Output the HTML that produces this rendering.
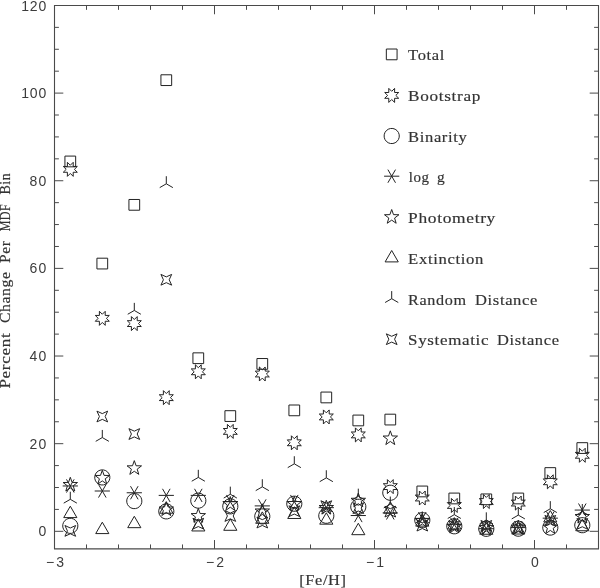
<!DOCTYPE html>
<html><head><meta charset="utf-8"><title>Percent Change Per MDF Bin</title>
<style>html,body{margin:0;padding:0;background:#fff}svg{display:block}text{font-family:"Liberation Serif",serif;fill:#333;stroke:#333;stroke-width:0.18px}.n{font-family:"Liberation Sans",sans-serif;fill:#3c3c3c;stroke:none}</style></head>
<body>
<svg width="600" height="588" viewBox="0 0 600 588">
<rect width="600" height="588" fill="#fff"/>
<path d="M54.50 5.45H598.50V548.85H54.50Z" fill="none" stroke="#4a4a4a" stroke-width="1.1"/>
<path d="M86.50 548.85v-4.40M86.50 5.45v4.40M118.50 548.85v-4.40M118.50 5.45v4.40M150.50 548.85v-4.40M150.50 5.45v4.40M182.50 548.85v-4.40M182.50 5.45v4.40M214.50 548.85v-8.80M214.50 5.45v8.80M246.50 548.85v-4.40M246.50 5.45v4.40M278.50 548.85v-4.40M278.50 5.45v4.40M310.50 548.85v-4.40M310.50 5.45v4.40M342.50 548.85v-4.40M342.50 5.45v4.40M374.50 548.85v-8.80M374.50 5.45v8.80M406.50 548.85v-4.40M406.50 5.45v4.40M438.50 548.85v-4.40M438.50 5.45v4.40M470.50 548.85v-4.40M470.50 5.45v4.40M502.50 548.85v-4.40M502.50 5.45v4.40M534.50 548.85v-8.80M534.50 5.45v8.80M566.50 548.85v-4.40M566.50 5.45v4.40M54.50 531.32h8.80M598.50 531.32h-8.80M54.50 509.41h4.40M598.50 509.41h-4.40M54.50 487.50h4.40M598.50 487.50h-4.40M54.50 465.59h4.40M598.50 465.59h-4.40M54.50 443.68h8.80M598.50 443.68h-8.80M54.50 421.76h4.40M598.50 421.76h-4.40M54.50 399.85h4.40M598.50 399.85h-4.40M54.50 377.94h4.40M598.50 377.94h-4.40M54.50 356.03h8.80M598.50 356.03h-8.80M54.50 334.12h4.40M598.50 334.12h-4.40M54.50 312.21h4.40M598.50 312.21h-4.40M54.50 290.30h4.40M598.50 290.30h-4.40M54.50 268.39h8.80M598.50 268.39h-8.80M54.50 246.47h4.40M598.50 246.47h-4.40M54.50 224.56h4.40M598.50 224.56h-4.40M54.50 202.65h4.40M598.50 202.65h-4.40M54.50 180.74h8.80M598.50 180.74h-8.80M54.50 158.83h4.40M598.50 158.83h-4.40M54.50 136.92h4.40M598.50 136.92h-4.40M54.50 115.01h4.40M598.50 115.01h-4.40M54.50 93.10h8.80M598.50 93.10h-8.80M54.50 71.18h4.40M598.50 71.18h-4.40M54.50 49.27h4.40M598.50 49.27h-4.40M54.50 27.36h4.40M598.50 27.36h-4.40" fill="none" stroke="#4a4a4a" stroke-width="1"/>
<text class="n" x="46.2" y="536.42" font-size="14" text-anchor="end" textLength="8.3" lengthAdjust="spacing">0</text>
<text class="n" x="46.2" y="448.78" font-size="14" text-anchor="end" textLength="16.6" lengthAdjust="spacing">20</text>
<text class="n" x="46.2" y="361.13" font-size="14" text-anchor="end" textLength="16.6" lengthAdjust="spacing">40</text>
<text class="n" x="46.2" y="273.49" font-size="14" text-anchor="end" textLength="16.6" lengthAdjust="spacing">60</text>
<text class="n" x="46.2" y="185.84" font-size="14" text-anchor="end" textLength="16.6" lengthAdjust="spacing">80</text>
<text class="n" x="46.2" y="98.20" font-size="14" text-anchor="end" textLength="24.9" lengthAdjust="spacing">100</text>
<text class="n" x="46.2" y="10.55" font-size="14" text-anchor="end" textLength="24.9" lengthAdjust="spacing">120</text>
<text class="n" x="55.00" y="567.3" font-size="14" text-anchor="middle" textLength="18.0" lengthAdjust="spacing">−3</text>
<text class="n" x="215.00" y="567.3" font-size="14" text-anchor="middle" textLength="18.0" lengthAdjust="spacing">−2</text>
<text class="n" x="375.00" y="567.3" font-size="14" text-anchor="middle" textLength="18.0" lengthAdjust="spacing">−1</text>
<text class="n" x="535.00" y="567.3" font-size="14" text-anchor="middle" textLength="8.0" lengthAdjust="spacing">0</text>
<text y="584.7" font-size="15.5" style="letter-spacing:0.6px"><tspan x="299.30" textLength="47.30" lengthAdjust="spacingAndGlyphs">[Fe/H]</tspan></text>
<text transform="translate(10.2 0) rotate(-90)" y="0" font-size="15.5" style="letter-spacing:0.6px"><tspan x="-388.60" textLength="56.00" lengthAdjust="spacingAndGlyphs">Percent</tspan> <tspan x="-323.10" textLength="51.60" lengthAdjust="spacingAndGlyphs">Change</tspan> <tspan x="-262.90" textLength="22.40" lengthAdjust="spacingAndGlyphs">Per</tspan> <tspan x="-231.30" textLength="27.50" lengthAdjust="spacingAndGlyphs">MDF</tspan> <tspan x="-194.60" textLength="21.80" lengthAdjust="spacingAndGlyphs">Bin</tspan></text>
<text y="60.20" font-size="15.5" style="letter-spacing:0.6px"><tspan x="408.10" textLength="36.90" lengthAdjust="spacingAndGlyphs">Total</tspan></text>
<text y="101.20" font-size="15.5" style="letter-spacing:0.6px"><tspan x="408.10" textLength="72.90" lengthAdjust="spacingAndGlyphs">Bootstrap</tspan></text>
<text y="141.80" font-size="15.5" style="letter-spacing:0.6px"><tspan x="408.10" textLength="59.30" lengthAdjust="spacingAndGlyphs">Binarity</tspan></text>
<text y="182.00" font-size="15.5" style="letter-spacing:0.6px"><tspan x="408.80" textLength="20.80" lengthAdjust="spacingAndGlyphs">log</tspan> <tspan x="436.90" textLength="8.30" lengthAdjust="spacingAndGlyphs">g</tspan></text>
<text y="222.90" font-size="15.5" style="letter-spacing:0.6px"><tspan x="408.10" textLength="87.90" lengthAdjust="spacingAndGlyphs">Photometry</tspan></text>
<text y="263.90" font-size="15.5" style="letter-spacing:0.6px"><tspan x="408.10" textLength="75.90" lengthAdjust="spacingAndGlyphs">Extinction</tspan></text>
<text y="304.50" font-size="15.5" style="letter-spacing:0.6px"><tspan x="408.10" textLength="58.50" lengthAdjust="spacingAndGlyphs">Random</tspan> <tspan x="475.00" textLength="63.00" lengthAdjust="spacingAndGlyphs">Distance</tspan></text>
<text y="345.00" font-size="15.5" style="letter-spacing:0.6px"><tspan x="408.10" textLength="81.00" lengthAdjust="spacingAndGlyphs">Systematic</tspan> <tspan x="496.90" textLength="62.70" lengthAdjust="spacingAndGlyphs">Distance</tspan></text>
<path d="M397.07 49.03L386.33 49.03L386.33 59.77L397.07 59.77ZM75.67 156.08L64.93 156.08L64.93 166.83L75.67 166.83ZM107.67 258.19L96.93 258.19L96.93 268.94L107.67 268.94ZM139.67 199.47L128.93 199.47L128.93 210.22L139.67 210.22ZM171.67 74.79L160.93 74.79L160.93 85.54L171.67 85.54ZM203.67 352.85L192.93 352.85L192.93 363.60L203.67 363.60ZM235.67 410.69L224.93 410.69L224.93 421.44L235.67 421.44ZM267.67 358.54L256.93 358.54L256.93 369.29L267.67 369.29ZM299.67 405.00L288.93 405.00L288.93 415.74L299.67 415.74ZM331.67 392.07L320.93 392.07L320.93 402.82L331.67 402.82ZM363.67 415.08L352.93 415.08L352.93 425.82L363.67 425.82ZM395.67 414.20L384.93 414.20L384.93 424.95L395.67 424.95ZM427.67 486.07L416.93 486.07L416.93 496.82L427.67 496.82ZM459.67 493.08L448.93 493.08L448.93 503.83L459.67 503.83ZM491.67 493.96L480.93 493.96L480.93 504.70L491.67 504.70ZM523.67 493.08L512.93 493.08L512.93 503.83L523.67 503.83ZM555.67 467.66L544.93 467.66L544.93 478.41L555.67 478.41ZM587.67 442.68L576.93 442.68L576.93 453.43L587.67 453.43Z" fill="none" stroke="#222" stroke-width="1" stroke-linejoin="round" stroke-linecap="butt"/>
<path d="M398.72 92.49L394.60 92.50L394.61 88.38L391.70 91.30L388.79 88.38L388.80 92.50L384.68 92.49L387.60 95.40L384.68 98.31L388.80 98.30L388.79 102.42L391.70 99.50L394.61 102.42L394.60 98.30L398.72 98.31L395.80 95.40ZM77.32 166.44L73.20 166.44L73.21 162.32L70.30 165.24L67.39 162.32L67.40 166.44L63.28 166.44L66.20 169.35L63.28 172.25L67.40 172.25L67.39 176.37L70.30 173.45L73.21 176.37L73.20 172.25L77.32 172.25L74.40 169.35ZM109.32 315.43L105.20 315.44L105.21 311.32L102.30 314.24L99.39 311.32L99.40 315.44L95.28 315.43L98.20 318.34L95.28 321.25L99.40 321.25L99.39 325.36L102.30 322.45L105.21 325.36L105.20 321.25L109.32 321.25L106.40 318.34ZM141.32 320.69L137.20 320.70L137.21 316.58L134.30 319.50L131.39 316.58L131.40 320.70L127.28 320.69L130.20 323.60L127.28 326.51L131.40 326.50L131.39 330.62L134.30 327.71L137.21 330.62L137.20 326.50L141.32 326.51L138.40 323.60ZM173.32 394.75L169.20 394.76L169.21 390.64L166.30 393.56L163.39 390.64L163.40 394.76L159.28 394.75L162.20 397.66L159.28 400.57L163.40 400.56L163.39 404.68L166.30 401.77L169.21 404.68L169.20 400.56L173.32 400.57L170.40 397.66ZM205.32 368.90L201.20 368.90L201.21 364.79L198.30 367.70L195.39 364.79L195.40 368.90L191.28 368.90L194.20 371.81L191.28 374.72L195.40 374.71L195.39 378.83L198.30 375.91L201.21 378.83L201.20 374.71L205.32 374.72L202.40 371.81ZM237.32 428.50L233.20 428.50L233.21 424.38L230.30 427.30L227.39 424.38L227.40 428.50L223.28 428.50L226.20 431.41L223.28 434.31L227.40 434.31L227.39 438.43L230.30 435.51L233.21 438.43L233.20 434.31L237.32 434.31L234.40 431.41ZM269.32 371.09L265.20 371.10L265.21 366.98L262.30 369.89L259.39 366.98L259.40 371.10L255.28 371.09L258.20 374.00L255.28 376.91L259.40 376.90L259.39 381.02L262.30 378.10L265.21 381.02L265.20 376.90L269.32 376.91L266.40 374.00ZM301.32 439.89L297.20 439.90L297.21 435.78L294.30 438.70L291.39 435.78L291.40 439.90L287.28 439.89L290.20 442.80L287.28 445.71L291.40 445.70L291.39 449.82L294.30 446.90L297.21 449.82L297.20 445.70L301.32 445.71L298.40 442.80ZM333.32 414.04L329.20 414.04L329.21 409.92L326.30 412.84L323.39 409.92L323.40 414.04L319.28 414.04L322.20 416.94L319.28 419.85L323.40 419.85L323.39 423.97L326.30 421.05L329.21 423.97L329.20 419.85L333.32 419.85L330.40 416.94ZM365.32 432.00L361.20 432.01L361.21 427.89L358.30 430.81L355.39 427.89L355.40 432.01L351.28 432.00L354.20 434.91L351.28 437.82L355.40 437.81L355.39 441.93L358.30 439.02L361.21 441.93L361.20 437.81L365.32 437.82L362.40 434.91ZM397.32 483.71L393.20 483.72L393.21 479.60L390.30 482.52L387.39 479.60L387.40 483.72L383.28 483.71L386.20 486.62L383.28 489.53L387.40 489.52L387.39 493.64L390.30 490.73L393.21 493.64L393.20 489.52L397.32 489.53L394.40 486.62ZM429.32 495.11L425.20 495.11L425.21 490.99L422.30 493.91L419.39 490.99L419.40 495.11L415.28 495.11L418.20 498.02L415.28 500.92L419.40 500.92L419.39 505.04L422.30 502.12L425.21 505.04L425.20 500.92L429.32 500.92L426.40 498.02ZM461.32 502.56L457.20 502.56L457.21 498.44L454.30 501.36L451.39 498.44L451.40 502.56L447.28 502.56L450.20 505.47L447.28 508.37L451.40 508.37L451.39 512.49L454.30 509.57L457.21 512.49L457.20 508.37L461.32 508.37L458.40 505.47ZM493.32 498.61L489.20 498.62L489.21 494.50L486.30 497.42L483.39 494.50L483.40 498.62L479.28 498.61L482.20 501.52L479.28 504.43L483.40 504.42L483.39 508.54L486.30 505.63L489.21 508.54L489.20 504.42L493.32 504.43L490.40 501.52ZM525.32 500.15L521.20 500.15L521.21 496.03L518.30 498.95L515.39 496.03L515.40 500.15L511.28 500.15L514.20 503.06L511.28 505.96L515.40 505.96L515.39 510.08L518.30 507.16L521.21 510.08L521.20 505.96L525.32 505.96L522.40 503.06ZM557.32 478.89L553.20 478.90L553.21 474.78L550.30 477.70L547.39 474.78L547.40 478.90L543.28 478.89L546.20 481.80L543.28 484.71L547.40 484.70L547.39 488.82L550.30 485.91L553.21 488.82L553.20 484.70L557.32 484.71L554.40 481.80ZM589.32 452.38L585.20 452.39L585.21 448.27L582.30 451.18L579.39 448.27L579.40 452.39L575.28 452.38L578.20 455.29L575.28 458.20L579.40 458.19L579.39 462.31L582.30 459.39L585.21 462.31L585.20 458.19L589.32 458.20L586.40 455.29Z" fill="none" stroke="#222" stroke-width="1" stroke-linejoin="round" stroke-linecap="butt"/>
<path d="M399.21 134.81L398.47 132.55L397.07 130.63L395.15 129.23L392.89 128.49L390.51 128.49L388.25 129.23L386.33 130.63L384.93 132.55L384.19 134.81L384.19 137.19L384.93 139.45L386.33 141.37L388.25 142.77L390.51 143.51L392.89 143.51L395.15 142.77L397.07 141.37L398.47 139.45L399.21 137.19ZM77.81 524.65L77.07 522.39L75.67 520.47L73.75 519.07L71.49 518.34L69.11 518.34L66.85 519.07L64.93 520.47L63.53 522.39L62.79 524.65L62.79 527.03L63.53 529.29L64.93 531.22L66.85 532.61L69.11 533.35L71.49 533.35L73.75 532.61L75.67 531.22L77.07 529.29L77.81 527.03ZM109.81 476.23L109.07 473.97L107.67 472.05L105.75 470.65L103.49 469.91L101.11 469.91L98.85 470.65L96.93 472.05L95.53 473.97L94.79 476.23L94.79 478.61L95.53 480.87L96.93 482.79L98.85 484.19L101.11 484.93L103.49 484.93L105.75 484.19L107.67 482.79L109.07 480.87L109.81 478.61ZM141.81 499.89L141.07 497.63L139.67 495.71L137.75 494.31L135.49 493.58L133.11 493.58L130.85 494.31L128.93 495.71L127.53 497.63L126.79 499.89L126.79 502.27L127.53 504.53L128.93 506.46L130.85 507.86L133.11 508.59L135.49 508.59L137.75 507.86L139.67 506.46L141.07 504.53L141.81 502.27ZM173.81 510.19L173.07 507.93L171.67 506.01L169.75 504.61L167.49 503.88L165.11 503.88L162.85 504.61L160.93 506.01L159.53 507.93L158.79 510.19L158.79 512.57L159.53 514.83L160.93 516.76L162.85 518.15L165.11 518.89L167.49 518.89L169.75 518.15L171.67 516.76L173.07 514.83L173.81 512.57ZM205.81 499.46L205.07 497.19L203.67 495.27L201.75 493.87L199.49 493.14L197.11 493.14L194.85 493.87L192.93 495.27L191.53 497.19L190.79 499.46L190.79 501.83L191.53 504.10L192.93 506.02L194.85 507.42L197.11 508.15L199.49 508.15L201.75 507.42L203.67 506.02L205.07 504.10L205.81 501.83ZM237.81 505.15L237.07 502.89L235.67 500.97L233.75 499.57L231.49 498.84L229.11 498.84L226.85 499.57L224.93 500.97L223.53 502.89L222.79 505.15L222.79 507.53L223.53 509.79L224.93 511.72L226.85 513.11L229.11 513.85L231.49 513.85L233.75 513.11L235.67 511.72L237.07 509.79L237.81 507.53ZM269.81 515.23L269.07 512.97L267.67 511.05L265.75 509.65L263.49 508.91L261.11 508.91L258.85 509.65L256.93 511.05L255.53 512.97L254.79 515.23L254.79 517.61L255.53 519.87L256.93 521.80L258.85 523.19L261.11 523.93L263.49 523.93L265.75 523.19L267.67 521.80L269.07 519.87L269.81 517.61ZM301.81 502.52L301.07 500.26L299.67 498.34L297.75 496.94L295.49 496.21L293.11 496.21L290.85 496.94L288.93 498.34L287.53 500.26L286.79 502.52L286.79 504.90L287.53 507.16L288.93 509.09L290.85 510.48L293.11 511.22L295.49 511.22L297.75 510.48L299.67 509.09L301.07 507.16L301.81 504.90ZM333.81 514.58L333.07 512.31L331.67 510.39L329.75 508.99L327.49 508.26L325.11 508.26L322.85 508.99L320.93 510.39L319.53 512.31L318.79 514.58L318.79 516.95L319.53 519.21L320.93 521.14L322.85 522.54L325.11 523.27L327.49 523.27L329.75 522.54L331.67 521.14L333.07 519.21L333.81 516.95ZM365.81 505.59L365.07 503.33L363.67 501.41L361.75 500.01L359.49 499.27L357.11 499.27L354.85 500.01L352.93 501.41L351.53 503.33L350.79 505.59L350.79 507.97L351.53 510.23L352.93 512.15L354.85 513.55L357.11 514.29L359.49 514.29L361.75 513.55L363.67 512.15L365.07 510.23L365.81 507.97ZM397.81 491.57L397.07 489.31L395.67 487.38L393.75 485.99L391.49 485.25L389.11 485.25L386.85 485.99L384.93 487.38L383.53 489.31L382.79 491.57L382.79 493.95L383.53 496.21L384.93 498.13L386.85 499.53L389.11 500.26L391.49 500.26L393.75 499.53L395.67 498.13L397.07 496.21L397.81 493.95ZM429.81 518.96L429.07 516.70L427.67 514.77L425.75 513.37L423.49 512.64L421.11 512.64L418.85 513.37L416.93 514.77L415.53 516.70L414.79 518.96L414.79 521.34L415.53 523.60L416.93 525.52L418.85 526.92L421.11 527.65L423.49 527.65L425.75 526.92L427.67 525.52L429.07 523.60L429.81 521.34ZM461.81 525.09L461.07 522.83L459.67 520.91L457.75 519.51L455.49 518.77L453.11 518.77L450.85 519.51L448.93 520.91L447.53 522.83L446.79 525.09L446.79 527.47L447.53 529.73L448.93 531.66L450.85 533.05L453.11 533.79L455.49 533.79L457.75 533.05L459.67 531.66L461.07 529.73L461.81 527.47ZM493.81 527.63L493.07 525.37L491.67 523.45L489.75 522.05L487.49 521.32L485.11 521.32L482.85 522.05L480.93 523.45L479.53 525.37L478.79 527.63L478.79 530.01L479.53 532.27L480.93 534.20L482.85 535.59L485.11 536.33L487.49 536.33L489.75 535.59L491.67 534.20L493.07 532.27L493.81 530.01ZM525.81 527.50L525.07 525.24L523.67 523.32L521.75 521.92L519.49 521.19L517.11 521.19L514.85 521.92L512.93 523.32L511.53 525.24L510.79 527.50L510.79 529.88L511.53 532.14L512.93 534.07L514.85 535.46L517.11 536.20L519.49 536.20L521.75 535.46L523.67 534.07L525.07 532.14L525.81 529.88ZM557.81 526.41L557.07 524.15L555.67 522.22L553.75 520.82L551.49 520.09L549.11 520.09L546.85 520.82L544.93 522.22L543.53 524.15L542.79 526.41L542.79 528.78L543.53 531.05L544.93 532.97L546.85 534.37L549.11 535.10L551.49 535.10L553.75 534.37L555.67 532.97L557.07 531.05L557.81 528.78ZM589.81 524.00L589.07 521.74L587.67 519.81L585.75 518.41L583.49 517.68L581.11 517.68L578.85 518.41L576.93 519.81L575.53 521.74L574.79 524.00L574.79 526.37L575.53 528.64L576.93 530.56L578.85 531.96L581.11 532.69L583.49 532.69L585.75 531.96L587.67 530.56L589.07 528.64L589.81 526.37Z" fill="none" stroke="#222" stroke-width="1" stroke-linejoin="round" stroke-linecap="butt"/>
<path d="M391.70 176.20L399.30 176.20M391.70 176.20L395.50 169.62M391.70 176.20L387.90 169.62M391.70 176.20L384.10 176.20M391.70 176.20L387.90 182.78M391.70 176.20L395.50 182.78M70.30 485.96L77.90 485.96M70.30 485.96L74.10 479.38M70.30 485.96L66.50 479.38M70.30 485.96L62.70 485.96M70.30 485.96L66.50 492.55M70.30 485.96L74.10 492.55M102.30 491.00L109.90 491.00M102.30 491.00L106.10 484.42M102.30 491.00L98.50 484.42M102.30 491.00L94.70 491.00M102.30 491.00L98.50 497.59M102.30 491.00L106.10 497.59M134.30 492.76L141.90 492.76M134.30 492.76L138.10 486.18M134.30 492.76L130.50 486.18M134.30 492.76L126.70 492.76M134.30 492.76L130.50 499.34M134.30 492.76L138.10 499.34M166.30 495.39L173.90 495.39M166.30 495.39L170.10 488.80M166.30 495.39L162.50 488.80M166.30 495.39L158.70 495.39M166.30 495.39L162.50 501.97M166.30 495.39L170.10 501.97M198.30 495.39L205.90 495.39M198.30 495.39L202.10 488.80M198.30 495.39L194.50 488.80M198.30 495.39L190.70 495.39M198.30 495.39L194.50 501.97M198.30 495.39L202.10 501.97M230.30 501.52L237.90 501.52M230.30 501.52L234.10 494.94M230.30 501.52L226.50 494.94M230.30 501.52L222.70 501.52M230.30 501.52L226.50 508.10M230.30 501.52L234.10 508.10M262.30 505.90L269.90 505.90M262.30 505.90L266.10 499.32M262.30 505.90L258.50 499.32M262.30 505.90L254.70 505.90M262.30 505.90L258.50 512.49M262.30 505.90L266.10 512.49M294.30 501.52L301.90 501.52M294.30 501.52L298.10 494.94M294.30 501.52L290.50 494.94M294.30 501.52L286.70 501.52M294.30 501.52L290.50 508.10M294.30 501.52L298.10 508.10M326.30 507.66L333.90 507.66M326.30 507.66L330.10 501.07M326.30 507.66L322.50 501.07M326.30 507.66L318.70 507.66M326.30 507.66L322.50 514.24M326.30 507.66L330.10 514.24M358.30 515.54L365.90 515.54M358.30 515.54L362.10 508.96M358.30 515.54L354.50 508.96M358.30 515.54L350.70 515.54M358.30 515.54L354.50 522.13M358.30 515.54L362.10 522.13M390.30 512.92L397.90 512.92M390.30 512.92L394.10 506.33M390.30 512.92L386.50 506.33M390.30 512.92L382.70 512.92M390.30 512.92L386.50 519.50M390.30 512.92L394.10 519.50M422.30 518.61L429.90 518.61M422.30 518.61L426.10 512.03M422.30 518.61L418.50 512.03M422.30 518.61L414.70 518.61M422.30 518.61L418.50 525.19M422.30 518.61L426.10 525.19M454.30 524.31L461.90 524.31M454.30 524.31L458.10 517.73M454.30 524.31L450.50 517.73M454.30 524.31L446.70 524.31M454.30 524.31L450.50 530.89M454.30 524.31L458.10 530.89M486.30 528.69L493.90 528.69M486.30 528.69L490.10 522.11M486.30 528.69L482.50 522.11M486.30 528.69L478.70 528.69M486.30 528.69L482.50 535.27M486.30 528.69L490.10 535.27M518.30 527.60L525.90 527.60M518.30 527.60L522.10 521.01M518.30 527.60L514.50 521.01M518.30 527.60L510.70 527.60M518.30 527.60L514.50 534.18M518.30 527.60L522.10 534.18M550.30 518.17L557.90 518.17M550.30 518.17L554.10 511.59M550.30 518.17L546.50 511.59M550.30 518.17L542.70 518.17M550.30 518.17L546.50 524.76M550.30 518.17L554.10 524.76M582.30 510.07L589.90 510.07M582.30 510.07L586.10 503.49M582.30 510.07L578.50 503.49M582.30 510.07L574.70 510.07M582.30 510.07L578.50 516.65M582.30 510.07L586.10 516.65" fill="none" stroke="#222" stroke-width="1" stroke-linejoin="round" stroke-linecap="butt"/>
<path d="M391.70 209.50L389.91 214.64L384.47 214.75L388.81 218.04L387.23 223.25L391.70 220.14L396.17 223.25L394.59 218.04L398.93 214.75L393.49 214.64ZM70.30 477.27L68.51 482.41L63.07 482.52L67.41 485.81L65.83 491.02L70.30 487.91L74.77 491.02L73.19 485.81L77.53 482.52L72.09 482.41ZM102.30 470.26L100.51 475.40L95.07 475.51L99.41 478.80L97.83 484.01L102.30 480.90L106.77 484.01L105.19 478.80L109.53 475.51L104.09 475.40ZM134.30 460.62L132.51 465.76L127.07 465.87L131.41 469.16L129.83 474.36L134.30 471.26L138.77 474.36L137.19 469.16L141.53 465.87L136.09 465.76ZM166.30 501.81L164.51 506.95L159.07 507.06L163.41 510.35L161.83 515.56L166.30 512.45L170.77 515.56L169.19 510.35L173.53 507.06L168.09 506.95ZM198.30 508.38L196.51 513.52L191.07 513.63L195.41 516.92L193.83 522.13L198.30 519.02L202.77 522.13L201.19 516.92L205.53 513.63L200.09 513.52ZM230.30 496.55L228.51 501.69L223.07 501.80L227.41 505.09L225.83 510.30L230.30 507.19L234.77 510.30L233.19 505.09L237.53 501.80L232.09 501.69ZM262.30 503.78L260.51 508.92L255.07 509.03L259.41 512.32L257.83 517.53L262.30 514.42L266.77 517.53L265.19 512.32L269.53 509.03L264.09 508.92ZM294.30 496.33L292.51 501.47L287.07 501.58L291.41 504.87L289.83 510.08L294.30 506.97L298.77 510.08L297.19 504.87L301.53 501.58L296.09 501.47ZM326.30 500.28L324.51 505.42L319.07 505.53L323.41 508.82L321.83 514.02L326.30 510.92L330.77 514.02L329.19 508.82L333.53 505.53L328.09 505.42ZM358.30 493.05L356.51 498.19L351.07 498.30L355.41 501.58L353.83 506.79L358.30 503.69L362.77 506.79L361.19 501.58L365.53 498.30L360.09 498.19ZM390.30 430.82L388.51 435.96L383.07 436.07L387.41 439.36L385.83 444.57L390.30 441.46L394.77 444.57L393.19 439.36L397.53 436.07L392.09 435.96ZM422.30 513.20L420.51 518.34L415.07 518.46L419.41 521.74L417.83 526.95L422.30 523.84L426.77 526.95L425.19 521.74L429.53 518.46L424.09 518.34ZM454.30 519.12L452.51 524.26L447.07 524.37L451.41 527.66L449.83 532.87L454.30 529.76L458.77 532.87L457.19 527.66L461.53 524.37L456.09 524.26ZM486.30 520.22L484.51 525.36L479.07 525.47L483.41 528.75L481.83 533.96L486.30 530.86L490.77 533.96L489.19 528.75L493.53 525.47L488.09 525.36ZM518.30 520.08L516.51 525.22L511.07 525.34L515.41 528.62L513.83 533.83L518.30 530.72L522.77 533.83L521.19 528.62L525.53 525.34L520.09 525.22ZM550.30 519.78L548.51 524.92L543.07 525.03L547.41 528.32L545.83 533.53L550.30 530.42L554.77 533.53L553.19 528.32L557.53 525.03L552.09 524.92ZM582.30 509.26L580.51 514.40L575.07 514.51L579.41 517.80L577.83 523.01L582.30 519.90L586.77 523.01L585.19 517.80L589.53 514.51L584.09 514.40Z" fill="none" stroke="#222" stroke-width="1" stroke-linejoin="round" stroke-linecap="butt"/>
<path d="M391.70 250.50L385.12 261.90L398.28 261.90ZM70.30 506.19L63.72 517.59L76.88 517.59ZM102.30 522.19L95.72 533.59L108.88 533.59ZM134.30 516.27L127.72 527.67L140.88 527.67ZM166.30 501.81L159.72 513.21L172.88 513.21ZM198.30 519.56L191.72 530.96L204.88 530.96ZM230.30 518.90L223.72 530.30L236.88 530.30ZM262.30 511.89L255.72 523.29L268.88 523.29ZM294.30 507.07L287.72 518.47L300.88 518.47ZM326.30 512.77L319.72 524.17L332.88 524.17ZM358.30 523.28L351.72 534.68L364.88 534.68ZM390.30 501.81L383.72 513.21L396.88 513.21ZM422.30 514.74L415.72 526.14L428.88 526.14ZM454.30 517.59L447.72 528.99L460.88 528.99ZM486.30 522.84L479.72 534.24L492.88 534.24ZM518.30 522.63L511.72 534.03L524.88 534.03ZM550.30 510.57L543.72 521.97L556.88 521.97ZM582.30 519.34L575.72 530.74L588.88 530.74Z" fill="none" stroke="#222" stroke-width="1" stroke-linejoin="round" stroke-linecap="butt"/>
<path d="M391.70 298.70L391.70 291.10M391.70 298.70L385.12 302.50M391.70 298.70L398.28 302.50M70.30 499.33L70.30 491.73M70.30 499.33L63.72 503.13M70.30 499.33L76.88 503.13M102.30 437.54L102.30 429.94M102.30 437.54L95.72 441.34M102.30 437.54L108.88 441.34M134.30 310.46L134.30 302.86M134.30 310.46L127.72 314.26M134.30 310.46L140.88 314.26M166.30 183.81L166.30 176.21M166.30 183.81L159.72 187.61M166.30 183.81L172.88 187.61M198.30 477.42L198.30 469.82M198.30 477.42L191.72 481.22M198.30 477.42L204.88 481.22M230.30 494.25L230.30 486.65M230.30 494.25L223.72 498.05M230.30 494.25L236.88 498.05M262.30 486.84L262.30 479.24M262.30 486.84L255.72 490.64M262.30 486.84L268.88 490.64M294.30 463.83L294.30 456.23M294.30 463.83L287.72 467.63M294.30 463.83L300.88 467.63M326.30 477.86L326.30 470.26M326.30 477.86L319.72 481.66M326.30 477.86L332.88 481.66M358.30 496.26L358.30 488.66M358.30 496.26L351.72 500.06M358.30 496.26L364.88 500.06M390.30 504.15L390.30 496.55M390.30 504.15L383.72 507.95M390.30 504.15L396.88 507.95M422.30 519.05L422.30 511.45M422.30 519.05L415.72 522.85M422.30 519.05L428.88 522.85M454.30 514.67L454.30 507.07M454.30 514.67L447.72 518.47M454.30 514.67L460.88 518.47M486.30 519.93L486.30 512.33M486.30 519.93L479.72 523.73M486.30 519.93L492.88 523.73M518.30 515.11L518.30 507.51M518.30 515.11L511.72 518.91M518.30 515.11L524.88 518.91M550.30 508.75L550.30 501.15M550.30 508.75L543.72 512.55M550.30 508.75L556.88 512.55M582.30 511.60L582.30 504.00M582.30 511.60L575.72 515.40M582.30 511.60L588.88 515.40" fill="none" stroke="#222" stroke-width="1" stroke-linejoin="round" stroke-linecap="butt"/>
<path d="M397.07 333.83L391.70 336.31L386.33 333.83L388.81 339.20L386.33 344.57L391.70 342.09L397.07 344.57L394.59 339.20ZM75.67 525.51L70.30 527.99L64.93 525.51L67.41 530.88L64.93 536.26L70.30 533.77L75.67 536.26L73.19 530.88ZM107.67 411.13L102.30 413.62L96.93 411.13L99.41 416.51L96.93 421.88L102.30 419.39L107.67 421.88L105.19 416.51ZM139.67 428.66L134.30 431.15L128.93 428.66L131.41 434.03L128.93 439.41L134.30 436.92L139.67 439.41L137.19 434.03ZM171.67 274.41L166.30 276.89L160.93 274.41L163.41 279.78L160.93 285.15L166.30 282.67L171.67 285.15L169.19 279.78ZM203.67 518.28L198.30 520.76L192.93 518.28L195.41 523.65L192.93 529.03L198.30 526.54L203.67 529.03L201.19 523.65ZM235.67 510.61L230.30 513.10L224.93 510.61L227.41 515.98L224.93 521.36L230.30 518.87L235.67 521.36L233.19 515.98ZM267.67 517.18L262.30 519.67L256.93 517.18L259.41 522.56L256.93 527.93L262.30 525.44L267.67 527.93L265.19 522.56ZM299.67 505.79L294.30 508.27L288.93 505.79L291.41 511.16L288.93 516.54L294.30 514.05L299.67 516.54L297.19 511.16ZM331.67 500.75L326.30 503.23L320.93 500.75L323.41 506.12L320.93 511.50L326.30 509.01L331.67 511.50L329.19 506.12ZM363.67 502.72L358.30 505.21L352.93 502.72L355.41 508.10L352.93 513.47L358.30 510.98L363.67 513.47L361.19 508.10ZM395.67 506.23L390.30 508.71L384.93 506.23L387.41 511.60L384.93 516.97L390.30 514.49L395.67 516.97L393.19 511.60ZM427.67 520.25L422.30 522.74L416.93 520.25L419.41 525.62L416.93 531.00L422.30 528.51L427.67 531.00L425.19 525.62ZM459.67 520.69L454.30 523.17L448.93 520.69L451.41 526.06L448.93 531.44L454.30 528.95L459.67 531.44L457.19 526.06ZM491.67 520.47L486.30 522.96L480.93 520.47L483.41 525.84L480.93 531.22L486.30 528.73L491.67 531.22L489.19 525.84ZM523.67 523.32L518.30 525.80L512.93 523.32L515.41 528.69L512.93 534.07L518.30 531.58L523.67 534.07L521.19 528.69ZM555.67 515.43L550.30 517.92L544.93 515.43L547.41 520.80L544.93 526.18L550.30 523.69L555.67 526.18L553.19 520.80ZM587.67 518.50L582.30 520.98L576.93 518.50L579.41 523.87L576.93 529.25L582.30 526.76L587.67 529.25L585.19 523.87Z" fill="none" stroke="#222" stroke-width="1" stroke-linejoin="round" stroke-linecap="butt"/>
</svg></body></html>
